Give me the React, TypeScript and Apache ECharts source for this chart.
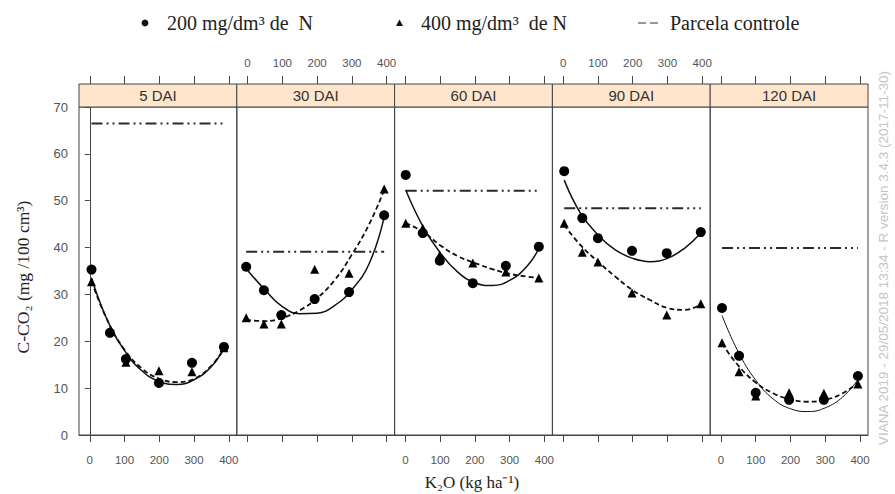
import React, { useEffect, useRef } from "react";
import * as echarts from "echarts";

// ---------- data ----------
const panelNames = ["5 DAI", "30 DAI", "60 DAI", "90 DAI", "120 DAI"];
const xTicks = [0, 100, 200, 300, 400];

// K2O doses (x positions of the points) per panel
const dose5 = [5, 58, 104, 199, 294, 386];
const dose30 = [-4, 47, 97, 193, 292, 393];
const dose60 = [1, 50, 99, 194, 289, 384];
const dose90 = [3, 55, 100, 198, 298, 396];
const dose120 = [3, 52, 100, 196, 296, 394];

// 200 mg/dm3 de N (circles)
const n200_5 = [35.3, 21.8, 16.2, 11.1, 15.4, 18.8];
const n200_30 = [35.9, 30.9, 25.6, 29.0, 30.5, 46.9];
const n200_60 = [55.5, 43.1, 37.2, 32.4, 36.1, 40.2];
const n200_90 = [56.3, 46.3, 42.0, 39.3, 38.8, 43.3];
const n200_120 = [27.1, 16.9, 9.0, 7.5, 7.5, 12.6];

// 400 mg/dm3 de N (triangles)
const n400_5 = [32.7, 22.2, 15.5, 13.7, 13.5, 18.6];
const n400_30 = [25.0, 23.7, 23.7, 35.4, 34.5, 52.5];
const n400_60 = [45.2, 44.1, 38.4, 36.7, 34.8, 33.5];
const n400_90 = [45.2, 39.0, 36.9, 30.3, 25.6, 28.0];
const n400_120 = [19.7, 13.5, 8.3, 9.0, 8.9, 10.9];

// fitted curves, read at these x positions
const curveX5 = [5, 50, 100, 150, 200, 250, 300, 350, 386];
const curveX30 = [-4, 50, 100, 150, 200, 250, 300, 350, 393];
const curveX60 = [1, 50, 100, 150, 200, 250, 300, 350, 384];
const curveX90 = [3, 50, 100, 150, 200, 250, 300, 350, 396];
const curveX120 = [3, 50, 100, 150, 200, 250, 300, 350, 394];

const fit200_5 = [33.5, 24.6, 18.0, 13.7, 11.4, 10.8, 11.8, 14.6, 18.6];
const fit200_30 = [35.5, 31.0, 27.4, 25.9, 26.0, 27.6, 31.0, 36.6, 46.5];
const fit200_60 = [52.3, 44.6, 38.9, 34.8, 32.5, 31.9, 33.0, 36.0, 39.8];
const fit200_90 = [54.4, 47.3, 42.7, 39.5, 37.7, 37.0, 37.7, 39.9, 43.1];
const fit200_120 = [25.5, 17.7, 11.7, 7.7, 5.6, 5.0, 5.8, 8.1, 11.8];

const fit400_5 = [32.8, 24.6, 18.2, 14.2, 12.0, 11.3, 12.0, 14.8, 18.4];
const fit400_30 = [24.6, 24.3, 25.0, 26.6, 29.2, 33.0, 38.5, 45.0, 52.3];
const fit400_60 = [45.2, 43.4, 40.5, 38.2, 36.7, 35.4, 34.4, 33.8, 33.5];
const fit400_90 = [44.8, 40.5, 37.0, 33.8, 30.9, 28.8, 27.1, 26.7, 27.9];
const fit400_120 = [19.5, 14.8, 11.2, 8.9, 7.6, 7.1, 7.5, 8.9, 11.2];

// Parcela controle (horizontal reference)
const controle = [66.5, 39.1, 52.1, 48.4, 39.9];

const doses = [dose5, dose30, dose60, dose90, dose120];
const n200 = [n200_5, n200_30, n200_60, n200_90, n200_120];
const n400 = [n400_5, n400_30, n400_60, n400_90, n400_120];
const curveX = [curveX5, curveX30, curveX60, curveX90, curveX120];
const fit200 = [fit200_5, fit200_30, fit200_60, fit200_90, fit200_120];
const fit400 = [fit400_5, fit400_30, fit400_60, fit400_90, fit400_120];

// ---------- layout ----------
const PANEL_LEFT = 79;
const PANEL_W = 157.8;
const PLOT_TOP = 107;
const PLOT_H = 328;
const STRIP_H = 23;
const XMIN = -31;
const XMAX = 423;
const AXIS_COLOR = "#444";
const LABEL_COLOR = "#555";
const sans = "'Liberation Sans', Arial, sans-serif";
const serif = "'Liberation Serif', 'Times New Roman', serif";

const zip = (xs: number[], ys: number[]) => xs.map((x, k) => [x, ys[k]]);

function textEl(text: string, x: number, y: number, opts: any = {}) {
  const { fontSize = 12, fontFamily = sans, fill = "#222", align = "left", rotation = 0 } = opts;
  return {
    type: "text",
    x,
    y,
    rotation,
    z: 10,
    style: {
      text,
      x: 0,
      y: 0,
      fontSize,
      fontFamily,
      fill,
      align,
      textAlign: align,
      verticalAlign: "middle",
      textVerticalAlign: "middle",
    },
  };
}

function buildOption() {
  const grid: any[] = [];
  const xAxis: any[] = [];
  const yAxis: any[] = [];
  const series: any[] = [];
  const graphic: any[] = [];

  panelNames.forEach((name, i) => {
    const left = PANEL_LEFT + i * PANEL_W;
    grid.push({
      left,
      top: PLOT_TOP,
      width: PANEL_W,
      height: PLOT_H,
      show: true,
      borderColor: AXIS_COLOR,
      borderWidth: 1,
      backgroundColor: "transparent",
    });
    const common = {
      type: "value",
      gridIndex: i,
      min: XMIN,
      max: XMAX,
      axisLine: { show: true, lineStyle: { color: AXIS_COLOR, width: 1 } },
      splitLine: { show: false },
    };
    xAxis.push({
      ...common,
      position: "bottom",
      axisTick: { show: true, customValues: xTicks, length: 7, lineStyle: { color: AXIS_COLOR } },
      axisLabel: {
        show: i % 2 === 0,
        customValues: xTicks,
        margin: 19,
        fontSize: 11.5,
        color: LABEL_COLOR,
        fontFamily: sans,
      },
    });
    xAxis.push({
      ...common,
      position: "top",
      offset: STRIP_H,
      axisTick: { show: true, customValues: xTicks, length: 8, lineStyle: { color: AXIS_COLOR } },
      axisLabel: {
        show: i % 2 === 1,
        customValues: xTicks,
        margin: 15,
        fontSize: 11.5,
        color: LABEL_COLOR,
        fontFamily: sans,
      },
    });
    yAxis.push({
      type: "value",
      gridIndex: i,
      min: 0,
      max: 70,
      interval: 10,
      axisLine: { show: i === 0, lineStyle: { color: AXIS_COLOR } },
      axisTick: { show: i === 0, length: 5, lineStyle: { color: AXIS_COLOR } },
      axisLabel: { show: i === 0, margin: 11, fontSize: 13, color: LABEL_COLOR, fontFamily: sans },
      splitLine: { show: false },
    });

    const xi = 2 * i;
    const ds = doses[i];
    series.push({
      type: "line",
      xAxisIndex: xi,
      yAxisIndex: i,
      data: [
        [ds[0], controle[i]],
        [ds[ds.length - 1], controle[i]],
      ],
      symbol: "none",
      lineStyle: { color: "#2a2a2a", width: 2, type: [11, 4, 2, 4, 2, 4] },
      z: 2,
    });
    series.push({
      type: "line",
      xAxisIndex: xi,
      yAxisIndex: i,
      data: zip(curveX[i], fit200[i]),
      smooth: 0.45,
      symbol: "none",
      lineStyle: { color: "#111", width: i === 4 ? 1 : 1.5, type: "solid" },
      z: 3,
    });
    series.push({
      type: "line",
      xAxisIndex: xi,
      yAxisIndex: i,
      data: zip(curveX[i], fit400[i]),
      smooth: 0.45,
      symbol: "none",
      lineStyle: { color: "#111", width: 1.8, type: [5, 3] },
      z: 3,
    });
    series.push({
      type: "scatter",
      xAxisIndex: xi,
      yAxisIndex: i,
      data: zip(ds, n200[i]),
      symbol: "circle",
      symbolSize: 10,
      itemStyle: { color: "#000", opacity: 1 },
      z: 4,
    });
    series.push({
      type: "scatter",
      xAxisIndex: xi,
      yAxisIndex: i,
      data: zip(ds, n400[i]),
      symbol: "triangle",
      symbolSize: 9,
      itemStyle: { color: "#000", opacity: 1 },
      z: 4,
    });

    // strip
    graphic.push({
      type: "rect",
      z: 5,
      shape: { x: left, y: PLOT_TOP - STRIP_H, width: PANEL_W, height: STRIP_H },
      style: { fill: "#FFE5CC", stroke: AXIS_COLOR, lineWidth: 1 },
    });
    graphic.push(
      textEl(name, left + PANEL_W / 2, PLOT_TOP - STRIP_H / 2, { fontSize: 15, fill: "#333", align: "center" })
    );
  });

  // legend
  graphic.push({
    type: "circle",
    z: 10,
    shape: { cx: 145, cy: 23, r: 3.4 },
    style: { fill: "#111" },
  });
  graphic.push(textEl("200 mg/dm³ de  N", 167, 23, { fontSize: 20, fontFamily: serif }));
  graphic.push({
    type: "polygon",
    z: 10,
    shape: { points: [[396, 26], [403, 26], [399.5, 19.5]] },
    style: { fill: "#111" },
  });
  graphic.push(textEl("400 mg/dm³  de N", 421, 23, { fontSize: 20, fontFamily: serif }));
  graphic.push({
    type: "line",
    z: 10,
    shape: { x1: 638, y1: 23, x2: 646, y2: 23 },
    style: { stroke: "#333", lineWidth: 1 },
  });
  graphic.push({
    type: "line",
    z: 10,
    shape: { x1: 650, y1: 23, x2: 658, y2: 23 },
    style: { stroke: "#333", lineWidth: 1 },
  });
  graphic.push(textEl("Parcela controle", 670, 23, { fontSize: 20, fontFamily: serif }));

  // axis titles
  graphic.push(
    textEl("C-CO₂ (mg /100 cm³)", 23, 277, {
      fontSize: 17.5,
      fontFamily: serif,
      align: "center",
      rotation: Math.PI / 2,
    })
  );
  graphic.push(textEl("K₂O (kg ha⁻¹)", 472, 482, { fontSize: 17, fontFamily: serif, align: "center" }));

  // watermark
  graphic.push(
    textEl("VIANA 2019 - 29/05/2018 13:34 - R version 3.4.3 (2017-11-30)", 883, 258, {
      fontSize: 13.5,
      fill: "#c4c4c4",
      align: "center",
      rotation: Math.PI / 2,
    })
  );

  return {
    animation: false,
    backgroundColor: "#fff",
    grid,
    xAxis,
    yAxis,
    series,
    graphic: { elements: graphic },
  };
}

export default function App() {
  const ref = useRef<HTMLDivElement>(null);
  useEffect(() => {
    if (!ref.current) return;
    const chart = echarts.init(ref.current, null, { renderer: "svg" });
    chart.setOption(buildOption() as any);
    return () => chart.dispose();
  }, []);
  return <div ref={ref} style={{ position: "absolute", left: 0, top: 0, width: 895, height: 494 }} />;
}
